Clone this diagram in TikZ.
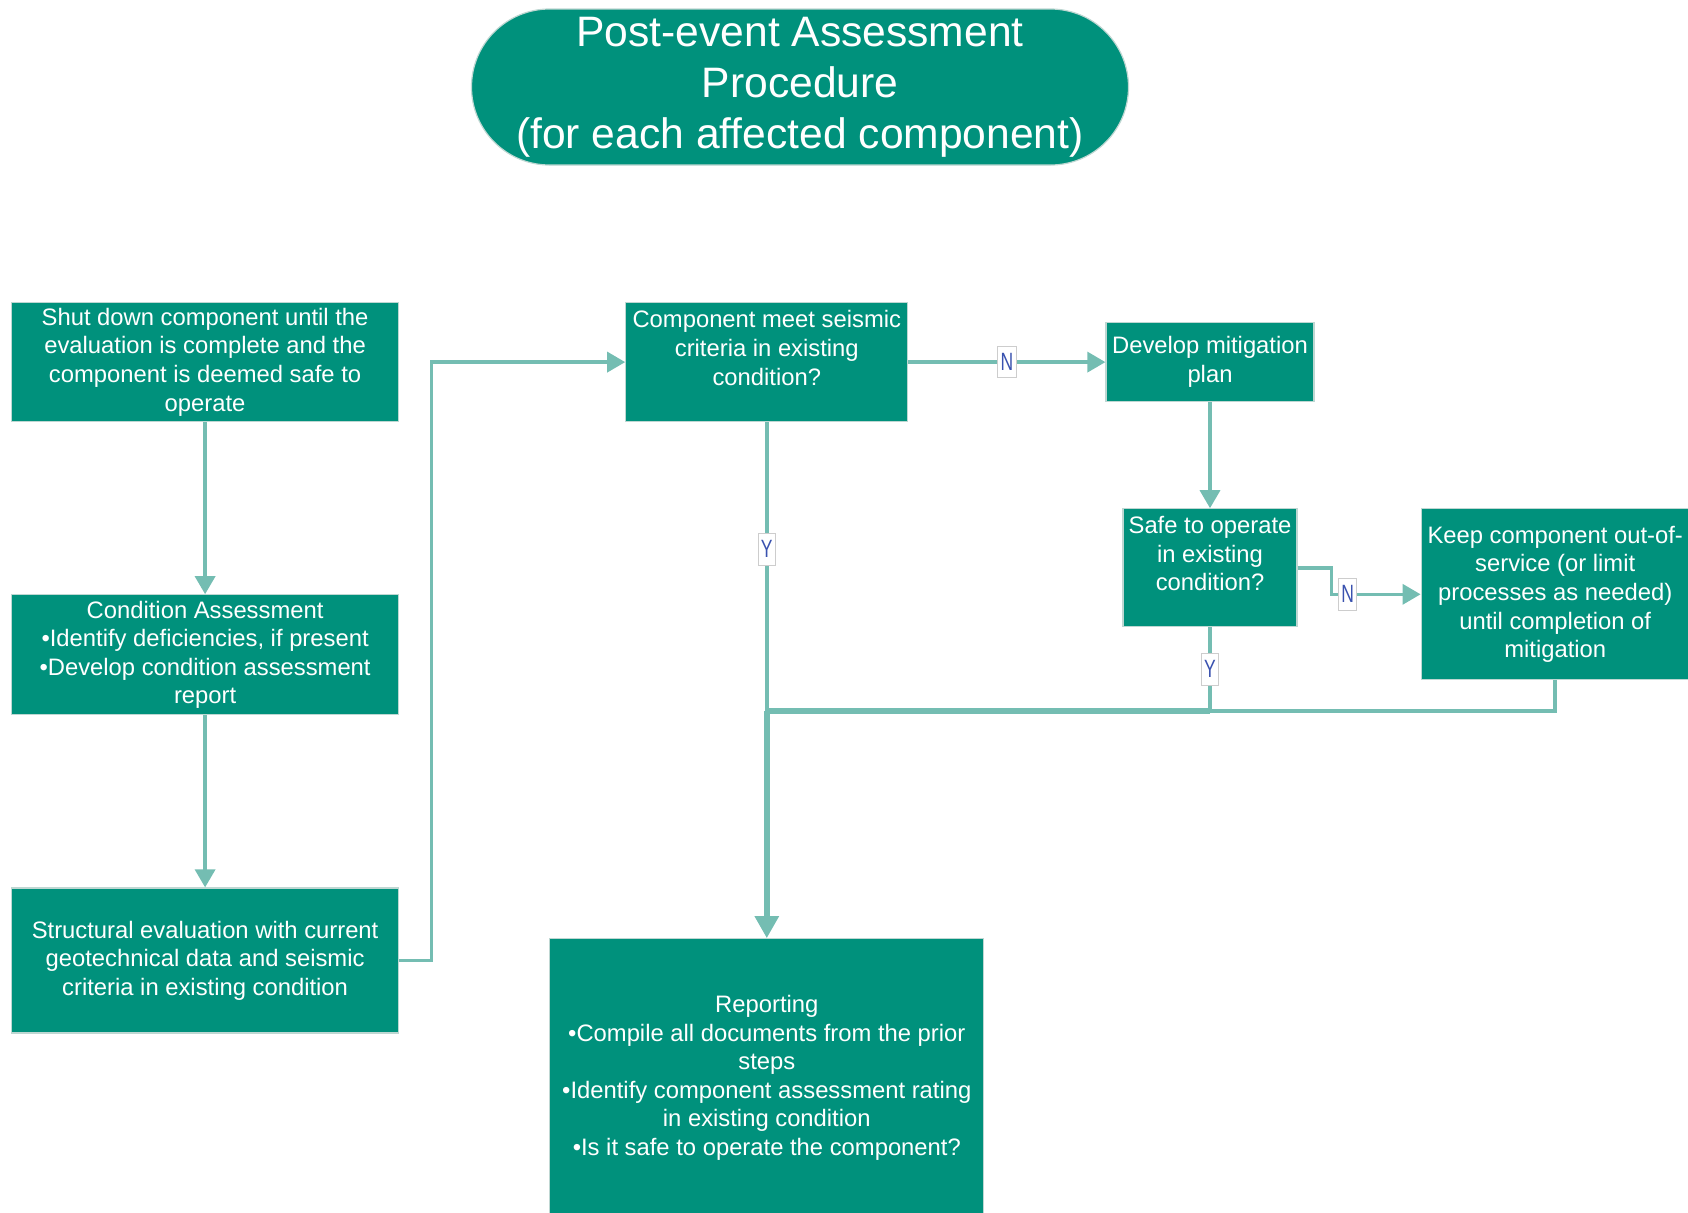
\documentclass[tikz,border=0pt]{standalone}
\usepackage{fontspec}
\setmainfont{Liberation Sans}
\usetikzlibrary{positioning,arrows.meta}
\definecolor{boxfill}{RGB}{0,145,124}
\definecolor{boxedge}{RGB}{190,215,210}
\definecolor{linkcol}{RGB}{116,189,178}
\definecolor{lblblue}{RGB}{58,82,175}
\definecolor{lblgray}{RGB}{205,205,205}

\begin{document}
\begin{tikzpicture}[box/.style={rectangle,draw=boxedge,line width=0.6pt,fill=boxfill,text=white,align=center,inner xsep=2pt,inner ysep=2pt,font=\fontsize{11.9}{14.3}\selectfont},
  head/.style={rectangle,rounded corners=39pt,draw=boxedge,line width=0.6pt,fill=boxfill,text=white,align=center,inner sep=0pt,minimum width=328.5pt,minimum height=78pt,font=\fontsize{21.3}{25.6}\selectfont},
  wire/.style={draw=linkcol,line width=1.7pt},
  link/.style={wire,-{Triangle[length=9pt,width=10pt]}},
  trunk/.style={draw=linkcol,line width=2.9pt},
  yn/.style={rectangle,draw=lblgray,line width=0.4pt,fill=white,text=lblblue,inner xsep=2pt,inner ysep=3.5pt,xscale=0.7,font=\fontsize{12.5}{13}\selectfont},]
\useasboundingbox (0,0) rectangle (844pt,-606pt);

\node[head] (title) at (400pt,-43.5pt) {Post-event Assessment\\Procedure\\(for each affected component)};

\node[box,minimum width=193.5pt,minimum height=59.5pt,anchor=north west] (shut) at (5.5pt,-151pt) {Shut down component until the\\evaluation is complete and the\\component is deemed safe to\\operate};
\node[box,minimum width=193.5pt,minimum height=60pt]   (assess) [below=86pt of shut]   {Condition Assessment\\•Identify deficiencies, if present\\•Develop condition assessment\\report};
\node[box,minimum width=193.5pt,minimum height=72.5pt] (struct) [below=86pt of assess] {Structural evaluation with current\\geotechnical data and seismic\\criteria in existing condition};
%
\node[box,minimum width=141pt,minimum height=59.5pt] (meet) [right=113pt of shut]  {Component meet seismic\\criteria in existing\\condition?\\\mbox{}};
\node[box,minimum width=104pt,minimum height=39.5pt] (plan) [right=98.5pt of meet] {Develop mitigation\\plan};
\node[box,minimum width=87pt,minimum height=59pt]    (safe) [below=53pt of plan]   {Safe to operate\\in existing\\condition?\\\mbox{}};
\node[box,minimum width=134pt,minimum height=85.5pt] (keep) [below right=0pt and 61.5pt of safe.north east] {Keep component out-of-\\service (or limit\\processes as needed)\\until completion of\\mitigation};
%
\node[box,minimum width=217pt,minimum height=139pt] (report) [below=258pt of meet] {Reporting\\•Compile all documents from the prior\\steps\\•Identify component assessment rating\\in existing condition\\•Is it safe to operate the component?};

\coordinate[below=144.5pt of meet.south] (join);

\draw[link] (shut) -- (assess);
\draw[link] (assess) -- (struct);
\draw[link] (struct.east) -- ++(16pt,0) |- (meet.west);
\draw[link] (meet) -- (plan) node [midway,yn] {N};
\draw[link] (plan) -- (safe);
\draw[link] (safe.east) -- ++(17pt,0) |- (keep.west) node [pos=0.59,yn] {N};
%\draw[wire] (safe) |- (join);
\draw[wire] (meet) -- (join) node [pos=0.44,yn] {Y};
\draw[wire] (safe) -- (safe |- join) node [midway,yn] {Y};
\draw[wire,line width=2pt] (keep) |- (join);
\draw[trunk] (safe |- join) -- (join);
\draw[trunk,-{Triangle[length=11pt,width=11.5pt]}] (join) -- (report);

\end{tikzpicture}
\end{document}
